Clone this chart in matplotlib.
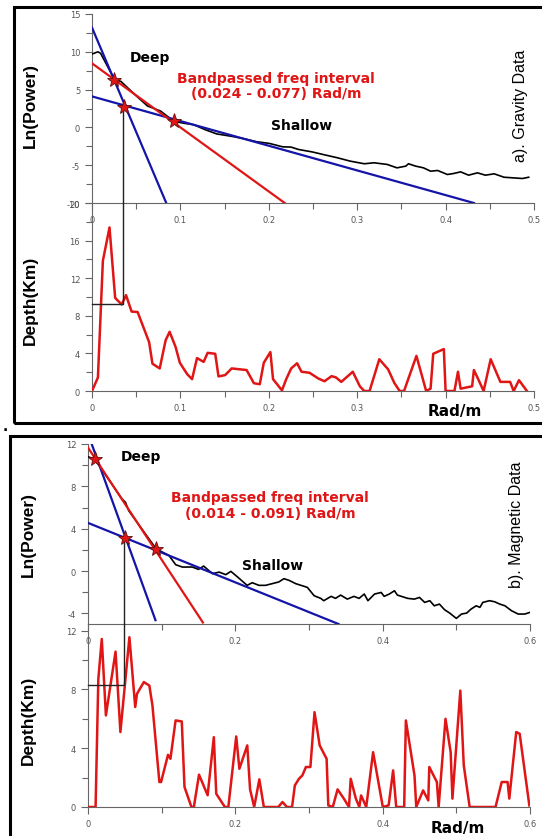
import matplotlib
matplotlib.use("Agg")
import matplotlib.pyplot as plt
from matplotlib.patches import Rectangle
from matplotlib.ticker import MultipleLocator

plt.rcParams['axes.unicode_minus'] = False

# ---- a) gravity: radially averaged spectrum ----
grav_k = [0, 0.0067, 0.0097, 0.0254, 0.0328, 0.0478, 0.0627, 0.0776, 0.0925, 0.104,
          0.115, 0.128, 0.141, 0.16, 0.172, 0.186, 0.2007, 0.2157, 0.225, 0.234,
          0.249, 0.262, 0.277, 0.292, 0.308, 0.319, 0.334, 0.345, 0.355, 0.358,
          0.366, 0.375, 0.383, 0.391, 0.402, 0.409, 0.417, 0.426, 0.436, 0.445,
          0.455, 0.466, 0.477, 0.487, 0.494]
grav_lnp = [9.7, 10.0, 9.8, 6.35, 6.08, 4.41, 2.84, 2.16, 0.81, 0.55,
            0.36, -0.3, -0.86, -1.22, -1.5, -1.89, -2.12, -2.57, -2.6, -2.93,
            -3.24, -3.6, -4.0, -4.46, -4.81, -4.68, -4.9, -5.35, -5.12, -4.81,
            -5.12, -5.35, -5.79, -5.7, -6.23, -6.1, -5.88, -6.32, -6.01, -6.32,
            -6.14, -6.59, -6.68, -6.76, -6.59]
grav_deep = ([0, 0.084], [13.2, -10])
grav_band = ([0, 0.218], [8.47, -10])
grav_shallow = ([0, 0.432], [4.1, -10])
grav_stars = ([0.0246, 0.0358, 0.0933], [6.3, 2.7, 0.9])
grav_cut_k, grav_cut_lnp, grav_cut_depth = 0.0347, 2.7, 9.24

# gravity depth estimate
grav_dk = [0, 0.0067, 0.0123, 0.0198, 0.0262, 0.0336, 0.0385, 0.0448, 0.0516, 0.0646,
           0.0684, 0.0766, 0.0833, 0.0878, 0.0945, 0.0994, 0.1076, 0.1132, 0.1188, 0.1263,
           0.1308, 0.1394, 0.1431, 0.1506, 0.158, 0.1749, 0.1831, 0.1898, 0.1943, 0.2018,
           0.2048, 0.2149, 0.2197, 0.2253, 0.232, 0.237, 0.246, 0.256, 0.263, 0.271,
           0.276, 0.282, 0.295, 0.303, 0.308, 0.314, 0.325, 0.335, 0.342, 0.348,
           0.353, 0.367, 0.378, 0.383, 0.386, 0.398, 0.4, 0.41, 0.414, 0.417,
           0.43, 0.432, 0.436, 0.443, 0.451, 0.462, 0.473, 0.477, 0.483, 0.492]
grav_depth = [0, 1.44, 13.85, 17.4, 9.9, 9.2, 10.2, 8.45, 8.4, 5.2,
              2.9, 2.4, 5.4, 6.3, 4.7, 3.0, 1.8, 1.26, 3.5, 3.1,
              4.06, 3.96, 1.55, 1.69, 2.4, 2.23, 0.83, 0.72, 3.0, 4.14,
              1.26, 0.07, 1.26, 2.4, 2.95, 2.05, 1.94, 1.33, 1.04, 1.58,
              1.44, 0.97, 2.05, 0.5, 0, 0, 3.38, 2.3, 0.86, 0,
              0, 3.74, 0, 0.25, 3.96, 4.46, 0, 0, 2.05, 0.25,
              0.5, 2.23, 1.44, 0, 3.38, 0.97, 0.97, 0, 1.15, 0]

# ---- b) magnetic: radially averaged spectrum ----
mag_k = [0, 0.0091, 0.0463, 0.0508, 0.0553, 0.0925, 0.11, 0.119, 0.128, 0.1415,
         0.15, 0.157, 0.169, 0.178, 0.187, 0.194, 0.203, 0.216, 0.223, 0.232,
         0.241, 0.25, 0.259, 0.266, 0.273, 0.282, 0.2977, 0.307, 0.316, 0.32,
         0.33, 0.336, 0.343, 0.352, 0.361, 0.368, 0.375, 0.38, 0.389, 0.398,
         0.402, 0.409, 0.416, 0.42, 0.434, 0.443, 0.45, 0.457, 0.464, 0.47,
         0.477, 0.484, 0.491, 0.5, 0.507, 0.514, 0.52, 0.527, 0.532, 0.536,
         0.545, 0.552, 0.559, 0.566, 0.575, 0.584, 0.593, 0.6]
mag_lnp = [10.8, 10.56, 6.8, 6.5, 5.7, 2.1, 1.47, 0.6, 0.38, 0.38,
           0.16, 0.47, -0.25, -0.1, -0.34, -0.03, -0.56, -1.35, -1.1, -1.35,
           -1.35, -1.19, -1.03, -0.72, -0.88, -1.19, -1.54, -2.33, -2.58, -2.8,
           -2.39, -2.58, -2.27, -2.65, -2.39, -2.58, -2.17, -2.8, -2.17, -2.02,
           -2.39, -2.17, -1.86, -2.27, -2.58, -2.65, -2.49, -2.96, -2.8, -3.28,
           -3.12, -3.65, -3.97, -4.47, -4.06, -3.97, -3.59, -3.28, -3.43, -2.96,
           -2.8, -2.9, -3.12, -3.28, -3.75, -4.06, -4.06, -3.9]
mag_deep = ([0.005, 0.0916], [12.0, -4.64])
mag_band = ([0, 0.156], [11.66, -4.86])
mag_shallow = ([0, 0.34], [4.55, -5])
mag_stars = ([0.0091, 0.0499, 0.0925], [10.56, 3.1, 2.1])
mag_cut_k, mag_cut_lnp, mag_cut_depth = 0.0494, 3.1, 8.33

# magnetic depth estimate
mag_dk = [0, 0.0103, 0.014, 0.0187, 0.0243, 0.0374, 0.044, 0.0562, 0.0641, 0.0665,
          0.0758, 0.0833, 0.0875, 0.0969, 0.0992, 0.1086, 0.1119, 0.1189, 0.1273, 0.131,
          0.1404, 0.1437, 0.1507, 0.1624, 0.1708, 0.1741, 0.1858, 0.1905, 0.2012, 0.2055,
          0.2162, 0.22, 0.2256, 0.2326, 0.2387, 0.2583, 0.264, 0.27, 0.277, 0.2808,
          0.2864, 0.291, 0.2958, 0.3019, 0.3075, 0.3145, 0.3239, 0.3262, 0.3323, 0.3388,
          0.3473, 0.3543, 0.3566, 0.3636, 0.3683, 0.3707, 0.3777, 0.387, 0.4002, 0.4081,
          0.4142, 0.4184, 0.4292, 0.4315, 0.4432, 0.4456, 0.4549, 0.4619, 0.4633, 0.4736,
          0.476, 0.4853, 0.4923, 0.4947, 0.5054, 0.5101, 0.5181, 0.5532, 0.5616, 0.5696,
          0.5719, 0.5813, 0.586, 0.5991]
mag_depth = [0, 0, 8.7, 11.43, 6.23, 10.57, 5.1, 11.55, 6.8, 7.7,
             8.5, 8.26, 6.9, 1.7, 1.7, 3.55, 3.28, 5.89, 5.82, 1.36,
             0, 0, 2.2, 0.8, 4.75, 0.9, 0, 0, 4.8, 2.6,
             4.19, 1.2, 0, 1.88, 0, 0, 0.34, 0, 0, 1.47,
             1.92, 2.15, 2.72, 2.72, 6.45, 4.19, 3.28, 0.11, 0, 1.2,
             0.57, 0, 1.92, 0.57, 0, 0.79, 0, 3.73, 0, 0.11,
             2.49, 0, 0, 5.89, 2.15, 0, 1.13, 0.45, 2.72, 1.7,
             0, 6.0, 3.73, 0.57, 7.92, 2.83, 0, 0, 1.7, 1.7,
             0.57, 5.1, 4.98, 0.11]

W, H = 542, 837
BLUE = '#1414a8'
RED = '#e01515'
GREY = '#666666'
ARIAL = ['Liberation Sans', 'DejaVu Sans']
WIDE = ['DejaVu Sans']
FS = 10

fig = plt.figure(figsize=(W / 100, H / 100), dpi=100)


def box(x0, y0, x1, y1):
    # pixel box -> figure fraction [left, bottom, width, height]
    return [x0 / W, 1 - y1 / H, (x1 - x0) / W, (y1 - y0) / H]


def style(ax, xmaj, xmin, ymaj, ymin):
    ax.set_facecolor('none')
    for s in ('top', 'right'):
        ax.spines[s].set_visible(False)
    for s in ('left', 'bottom'):
        ax.spines[s].set_color(GREY)
        ax.spines[s].set_linewidth(0.8)
    ax.xaxis.set_major_locator(MultipleLocator(xmaj))
    ax.xaxis.set_minor_locator(MultipleLocator(xmin))
    ax.yaxis.set_major_locator(MultipleLocator(ymaj))
    ax.yaxis.set_minor_locator(MultipleLocator(ymin))
    ax.tick_params(which='both', direction='out', colors=GREY, labelsize=6,
                   labelcolor='#555555', width=0.8)
    ax.tick_params(which='major', length=5)
    ax.tick_params(which='minor', length=4)
    ax.xaxis.set_major_formatter(lambda v, p: '0' if abs(v) < 1e-9 else f'{v:g}')


def spectrum(ax, k, lnp, deep, band, shallow, stars, cut):
    ax.plot(k, lnp, color='black', lw=1.2, zorder=3)
    ax.plot(*deep, color=BLUE, lw=1.6, zorder=4)
    ax.plot(*shallow, color=BLUE, lw=1.6, zorder=4)
    ax.plot(*band, color=RED, lw=1.6, zorder=4)
    ax.plot(*stars, ls='none', marker='*', ms=11, mfc=RED, mec='#601010',
            mew=0.6, zorder=6)
    ax.plot([cut[0], cut[0]], [cut[1], ax.get_ylim()[0]], color='#222222',
            lw=1.0, clip_on=False, zorder=5)


def depth(ax, k, d, cut_k, cut_d):
    ax.plot(k, d, color=RED, lw=1.8, zorder=3)
    top = ax.get_ylim()[1]
    ax.plot([0, cut_k, cut_k], [cut_d, cut_d, top], color='#222222', lw=1.0,
            clip_on=False, zorder=4)


# ---------------- a) gravity ----------------
ax1 = fig.add_axes(box(92, 15, 534, 204))
ax1.set_xlim(0, 0.5)
ax1.set_ylim(-10, 15)
style(ax1, 0.1, 0.05, 5, 2.5)
spectrum(ax1, grav_k, grav_lnp, grav_deep, grav_band, grav_shallow, grav_stars,
         (grav_cut_k, grav_cut_lnp))

ax2 = fig.add_axes(box(92, 204, 534, 392))
ax2.set_xlim(0, 0.5)
ax2.set_ylim(0, 20)
style(ax2, 0.1, 0.05, 4, 2)
depth(ax2, grav_dk, grav_depth, grav_cut_k, grav_cut_depth)

# ---------------- b) magnetic ----------------
ax3 = fig.add_axes(box(88, 445, 530, 625))
ax3.set_xlim(0, 0.6)
ax3.set_ylim(-5, 12)
style(ax3, 0.2, 0.1, 4, 2)
spectrum(ax3, mag_k, mag_lnp, mag_deep, mag_band, mag_shallow, mag_stars,
         (mag_cut_k, mag_cut_lnp))

ax4 = fig.add_axes(box(88, 625, 530, 808))
ax4.set_xlim(0, 0.6)
ax4.set_ylim(0, 12.45)
style(ax4, 0.2, 0.1, 4, 2)
depth(ax4, mag_dk, mag_depth, mag_cut_k, mag_cut_depth)


def ftxt(px, py, s, **kw):
    return fig.text(px / W, 1 - py / H, s, **kw)


# labels, panel a
ftxt(30, 105, 'Ln(Power)', rotation=90, ha='center', va='center', fontsize=12.5,
     fontweight='bold', family=ARIAL)
ftxt(30, 300, 'Depth(Km)', rotation=90, ha='center', va='center', fontsize=12.5,
     fontweight='bold', family=ARIAL)
ftxt(150, 58, 'Deep', ha='center', va='center', fontsize=FS, fontweight='bold',
     family=WIDE)
ftxt(276, 79, 'Bandpassed freq interval', ha='center', va='center',
     fontsize=FS, fontweight='bold', color=RED, family=WIDE)
ftxt(276, 94, '(0.024 - 0.077) Rad/m', ha='center', va='center', fontsize=FS,
     fontweight='bold', color=RED, family=WIDE)
ftxt(302, 126, 'Shallow', ha='center', va='center', fontsize=FS,
     fontweight='bold', family=WIDE)
ftxt(521, 106, 'a). Gravity Data', rotation=90, ha='center', va='center',
     fontsize=11.5, family=ARIAL)
ftxt(455, 412, 'Rad/m', ha='center', va='center', fontsize=11, fontweight='bold',
     family=WIDE, bbox=dict(fc='white', ec='none', pad=1.5))

# labels, panel b
ftxt(28, 535, 'Ln(Power)', rotation=90, ha='center', va='center', fontsize=12.5,
     fontweight='bold', family=ARIAL)
ftxt(28, 720, 'Depth(Km)', rotation=90, ha='center', va='center', fontsize=12.5,
     fontweight='bold', family=ARIAL)
ftxt(141, 457, 'Deep', ha='center', va='center', fontsize=FS, fontweight='bold',
     family=WIDE)
ftxt(270, 498, 'Bandpassed freq interval', ha='center', va='center',
     fontsize=FS, fontweight='bold', color=RED, family=WIDE)
ftxt(270, 514, '(0.014 - 0.091) Rad/m', ha='center', va='center',
     fontsize=FS, fontweight='bold', color=RED, family=WIDE)
ftxt(273, 566, 'Shallow', ha='center', va='center', fontsize=FS,
     fontweight='bold', family=WIDE)
ftxt(517, 525, 'b). Magnetic Data', rotation=90, ha='center', va='center',
     fontsize=11.5, family=ARIAL)
ftxt(458, 829, 'Rad/m', ha='center', va='center', fontsize=11, fontweight='bold',
     family=WIDE)

ftxt(5, 427, '.', ha='center', va='center', fontsize=10, fontweight='bold')

# panel frames
fig.patches.append(Rectangle((14 / W, 1 - 424 / H), 540 / W, 416 / H,
                             transform=fig.transFigure, fill=False,
                             ec='black', lw=2.2))
fig.patches.append(Rectangle((10 / W, 1 - 850 / H), 545 / W, 413 / H,
                             transform=fig.transFigure, fill=False,
                             ec='black', lw=2.2))

fig.savefig('out.png', dpi=100)
